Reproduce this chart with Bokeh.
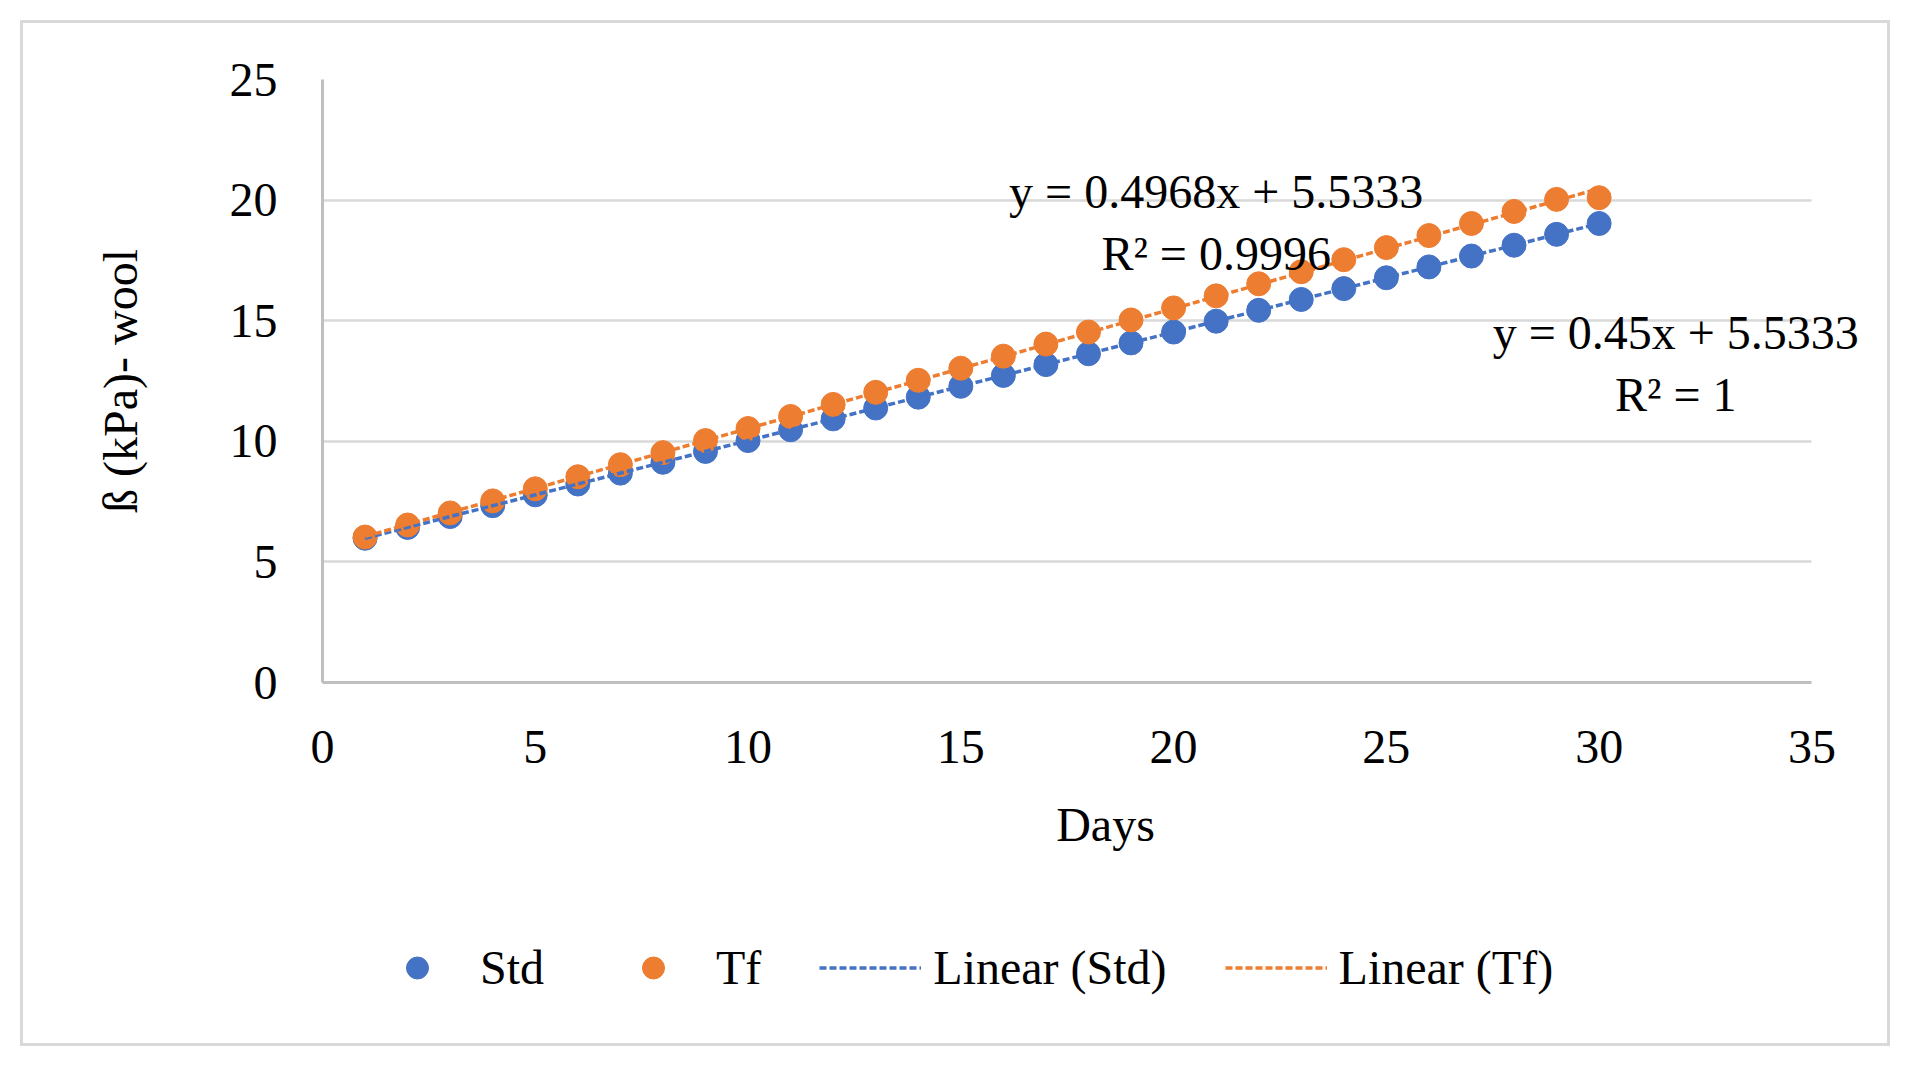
import numpy as np
from bokeh.plotting import figure
from bokeh.layouts import column
from bokeh.models import Legend, LegendItem, Label, FixedTicker, Range1d
from bokeh.embed import file_html
from bokeh.resources import INLINE

# ---- data ----
days = list(range(1, 31))
std_values = [5.98, 6.43, 6.88, 7.33, 7.78, 8.23, 8.68, 9.13, 9.58, 10.03,
              10.48, 10.93, 11.38, 11.83, 12.28, 12.73, 13.18, 13.63, 14.08, 14.53,
              14.98, 15.43, 15.88, 16.33, 16.78, 17.23, 17.68, 18.13, 18.58, 19.03]
tf_values = [6.03, 6.53, 7.03, 7.53, 8.03, 8.53, 9.03, 9.53, 10.03, 10.53,
             11.03, 11.53, 12.03, 12.53, 13.03, 13.53, 14.03, 14.53, 15.03, 15.53,
             16.03, 16.53, 17.03, 17.53, 18.03, 18.53, 19.03, 19.53, 20.03, 20.10]
x_ticks = [0, 5, 10, 15, 20, 25, 30, 35]
y_ticks = [0, 5, 10, 15, 20, 25]
series_names = ["Std", "Tf", "Linear (Std)", "Linear (Tf)"]
eq_std = ["y = 0.45x + 5.5333", "R\u00b2 = 1"]
eq_tf = ["y = 0.4968x + 5.5333", "R\u00b2 = 0.9996"]
x_title = "Days"
y_title = "\u00df (kPa)- wool"

BLUE = "#4472C4"
ORANGE = "#ED7D31"
FONT = "Liberation Serif"
FS = "48px"
BORDER = "3px solid #D9D9D9"

# ---------------- main plot ----------------
p = figure(width=1870, height=880, output_backend="svg", toolbar_location=None,
           x_range=Range1d(0, 36.8), y_range=Range1d(0, 25),
           min_border_left=299, min_border_right=5, min_border_top=56,
           min_border_bottom=221)
p.outline_line_color = None
p.background_fill_color = "white"
p.border_fill_color = "white"
p.margin = (20, 0, 0, 20)
p.styles = {"border-top": BORDER, "border-left": BORDER, "border-right": BORDER}

p.xgrid.visible = False
p.ygrid.ticker = FixedTicker(ticks=y_ticks)
p.ygrid.grid_line_color = "#D9D9D9"
p.ygrid.grid_line_width = 2.5
try:
    p.ygrid.cross_bounds = (0, 35)
except Exception:
    p.ygrid.visible = False
    p.segment(x0=[0] * len(y_ticks[1:]), x1=[35] * len(y_ticks[1:]),
              y0=y_ticks[1:], y1=y_ticks[1:], line_color="#D9D9D9", line_width=2.5)

for ax in (p.xaxis[0], p.yaxis[0]):
    ax.axis_line_color = "#BFBFBF"
    ax.axis_line_width = 3
    ax.major_tick_line_color = None
    ax.minor_tick_line_color = None
    ax.major_tick_out = 0
    ax.major_tick_in = 0
    ax.minor_tick_out = 0
    ax.major_label_text_font = FONT
    ax.major_label_text_font_size = FS
    ax.major_label_text_color = "#000000"
    ax.axis_label_text_font = FONT
    ax.axis_label_text_font_size = FS
    ax.axis_label_text_font_style = "normal"
    ax.axis_label_text_color = "#000000"

p.xaxis[0].ticker = FixedTicker(ticks=x_ticks)
p.yaxis[0].ticker = FixedTicker(ticks=y_ticks)
p.xaxis[0].bounds = (0, 35)
p.xaxis[0].axis_label = x_title
p.yaxis[0].axis_label = y_title
p.xaxis[0].major_label_standoff = 48
p.xaxis[0].axis_label_standoff = 32
p.yaxis[0].major_label_standoff = 45
p.yaxis[0].axis_label_standoff = 80

xs = np.array(days, dtype=float)
fit_std = np.polyfit(xs, np.array(std_values), 1)
fit_tf = np.polyfit(xs, np.array(tf_values), 1)
x_line = [xs.min(), xs.max()]
y_lstd = [fit_std[0] * v + fit_std[1] for v in x_line]
y_ltf = [fit_tf[0] * v + fit_tf[1] for v in x_line]


def draw_series(fig):
    a = fig.scatter(days, std_values, size=24, color=BLUE, line_color=BLUE)
    b = fig.scatter(days, tf_values, size=24, color=ORANGE, line_color=ORANGE)
    c = fig.line(x_line, y_lstd, line_color=BLUE, line_width=3.5, line_dash="7 3")
    d = fig.line(x_line, y_ltf, line_color=ORANGE, line_width=3.5, line_dash="7 3")
    return [a, b, c, d]


draw_series(p)


def add_label(x, y, txt):
    p.add_layout(Label(x=x, y=y, text=txt, text_align="center", text_baseline="middle",
                       text_font=FONT, text_font_size=FS, text_color="#000000"))


add_label(21.0, 20.35, eq_tf[0])
add_label(21.0, 17.8, eq_tf[1])
add_label(31.8, 14.5, eq_std[0])
add_label(31.8, 11.96, eq_std[1])

# ---------------- legend strip (inside the same chart border) ----------------
pl = figure(width=1870, height=146, output_backend="svg", toolbar_location=None,
            x_range=Range1d(0, 1), y_range=Range1d(100, 101),
            x_axis_location=None, y_axis_location=None, min_border=0)
pl.outline_line_color = None
pl.background_fill_color = "white"
pl.border_fill_color = "white"
pl.grid.visible = False
pl.margin = (0, 0, 0, 20)
pl.styles = {"border-bottom": BORDER, "border-left": BORDER, "border-right": BORDER}

rs = draw_series(pl)   # same series, outside the strip's view; used by the legend
legend = Legend(items=[LegendItem(label=n, renderers=[r]) for n, r in zip(series_names, rs)],
                orientation="horizontal", location=(44, 51),
                glyph_width=102, glyph_height=55, label_height=55,
                label_standoff=12, spacing=58, padding=0, margin=0,
                border_line_color=None, background_fill_alpha=0,
                label_text_font=FONT, label_text_font_size=FS,
                label_text_color="#000000")
pl.add_layout(legend, "center")

layout = column(p, pl, spacing=0)
open("out.html", "w").write(file_html(layout, INLINE))
